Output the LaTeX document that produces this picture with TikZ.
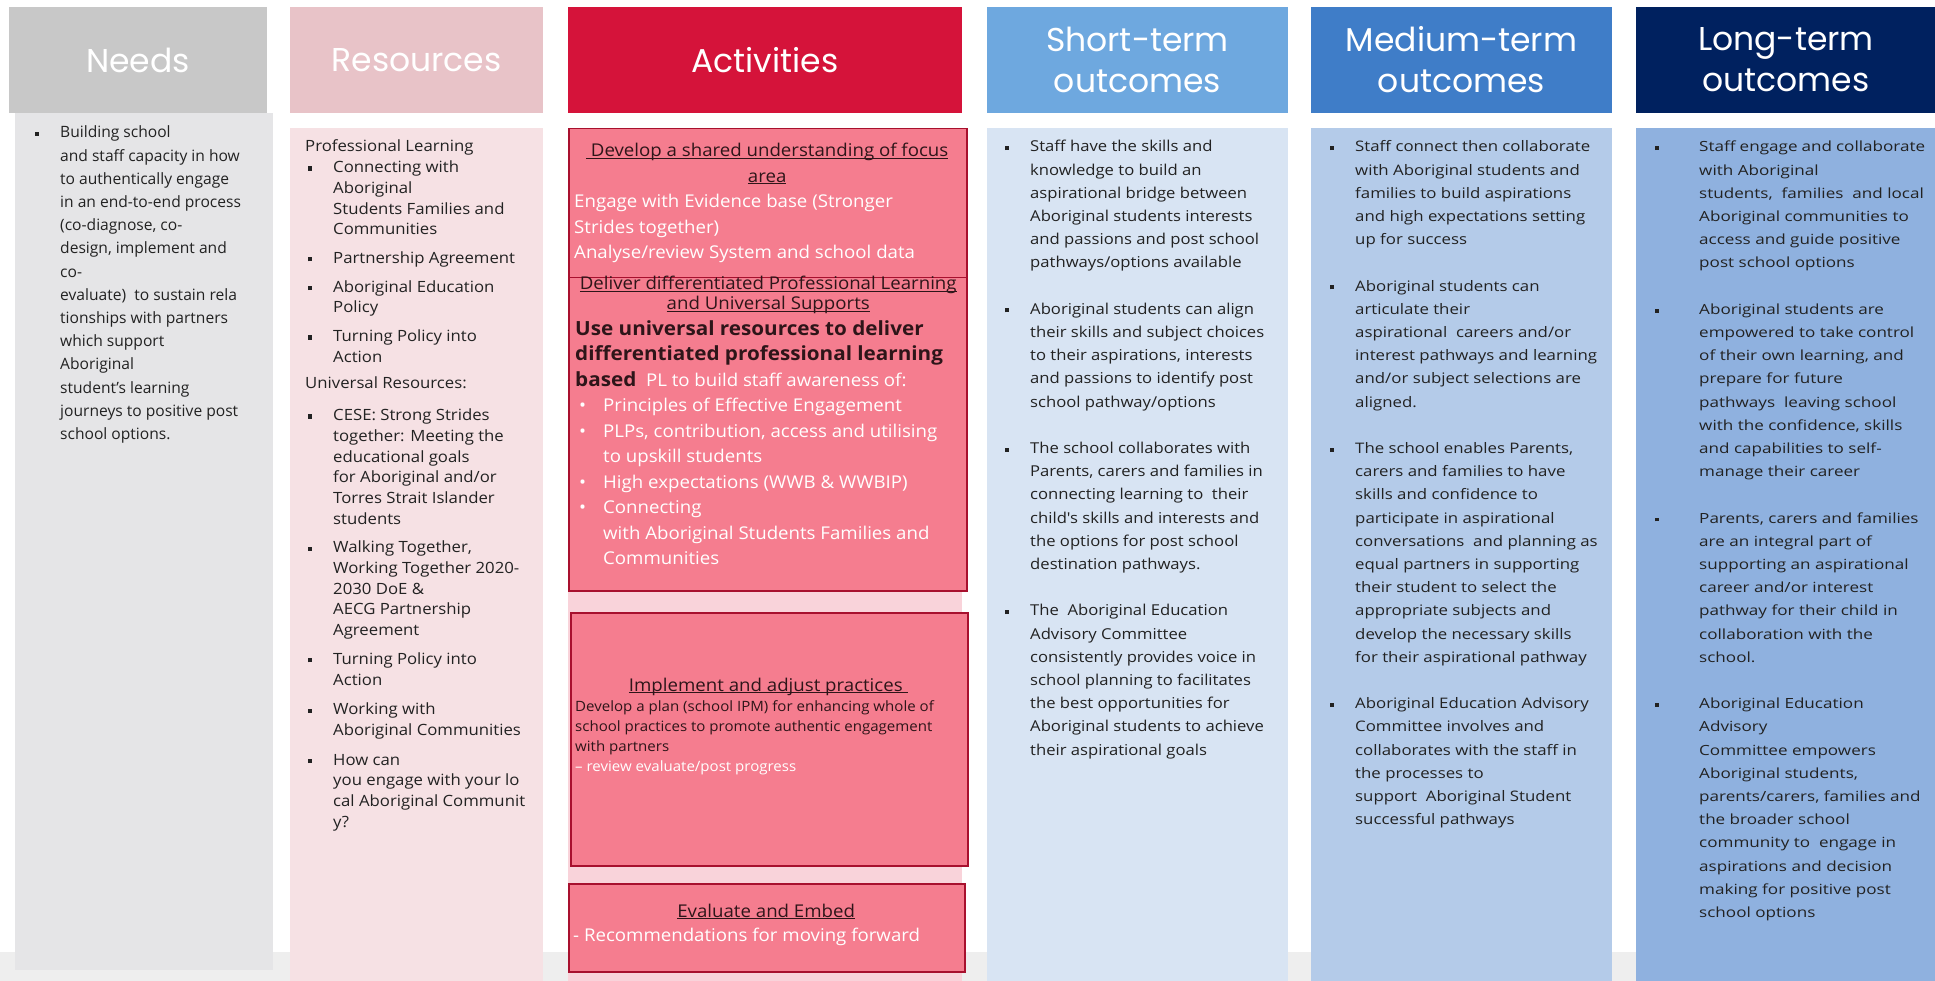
\documentclass[tikz,border=0pt]{standalone}
\usepackage{fontspec}
\setmainfont{Open Sans}
\newfontfamily\headfont{Poppins}
\newfontfamily\resfont[FakeStretch=1.08]{Open Sans}
\newfontfamily\actfont[FakeStretch=1.06]{Open Sans}
\newfontfamily\shortfont[FakeStretch=1.11]{Open Sans}
\newfontfamily\midfont[FakeStretch=1.16]{Open Sans}
\newfontfamily\longfont[FakeStretch=1.22]{Open Sans}
\usetikzlibrary{positioning}

\definecolor{needsH}{HTML}{C8C8C8}
\definecolor{needsB}{HTML}{E5E5E7}
\definecolor{resH}{HTML}{E8C3C8}
\definecolor{resB}{HTML}{F6E1E4}
\definecolor{actH}{HTML}{D5133A}
\definecolor{actB}{HTML}{F9D3DA}
\definecolor{actFill}{HTML}{F57D8F}
\definecolor{actLine}{HTML}{A8102E}
\definecolor{shortH}{HTML}{6EA8DF}
\definecolor{shortB}{HTML}{D8E4F3}
\definecolor{medH}{HTML}{3F7DC8}
\definecolor{medB}{HTML}{B4CBE9}
\definecolor{longH}{HTML}{00215F}
\definecolor{longB}{HTML}{8FB1DF}
\definecolor{band}{HTML}{EEEEEE}
\definecolor{ink}{HTML}{222222}
\definecolor{headink}{HTML}{2E1519}

\newlength\bulshift
\newcommand{\sqbul}{\rule[0.13em]{0.27em}{0.27em}}
\newcommand{\itm}[2][25pt]{\par\noindent\hangindent=#1\hangafter=1\makebox[#1][l]{\hspace{\bulshift}\sqbul}#2\par}
\newcommand{\wbul}[2][28pt]{\par\noindent\hangindent=#1\hangafter=1\makebox[#1][l]{\hspace{4pt}•}#2\par}
\newcommand{\undl}[1]{\leavevmode{\setbox0\hbox{#1}\rlap{\rule[-2pt]{\wd0}{1.1pt}}\box0}}
\newcommand{\itemgap}{\vspace{23.2pt}}

\begin{document}
\begin{tikzpicture}[x=1pt,y=-1pt,
    head/.style={minimum height=106pt,inner sep=0pt,outer sep=0pt,text=white,align=center,
      font=\headfont\fontsize{33}{41}\selectfont},
    body/.style={inner sep=0pt,outer sep=0pt},
    actbox/.style={draw=actLine,line width=1.5pt,fill=actFill,inner sep=0pt,anchor=north west},
    txt/.style={anchor=base west,inner sep=0pt,text=ink}]
    \useasboundingbox (0,0) rectangle (1935,981);
    \fill[white] (0,0) rectangle (1935,981);
    \fill[band] (0,952) rectangle (1935,981);

    \node[head,fill=needsH,minimum width=258pt,anchor=north west] (needs) at (9,7) {Needs};
    \node[head,fill=resH,minimum width=253pt,right=23pt of needs] (res) {Resources};
    \node[head,fill=actH,minimum width=394pt,right=25pt of res] (act) {Activities};
    \node[head,fill=shortH,minimum width=301pt,right=25pt of act] (short) {Short-term\\outcomes};
    \node[head,fill=medH,minimum width=301pt,right=23pt of short] (med) {Medium-term\\outcomes};
    \node[head,fill=longH,minimum width=300pt,right=24pt of med] (long) {Long-term\\outcomes};

    \node[body,fill=needsB,minimum width=258pt,minimum height=857pt,below=0pt of needs,xshift=6pt] (needsbody) {};
    \node[body,fill=resB,minimum width=253pt,minimum height=853pt,below=15pt of res] (resbody) {};
    \node[body,fill=actB,minimum width=394pt,minimum height=853pt,below=15pt of act] (actbody) {};
    \node[body,fill=shortB,minimum width=301pt,minimum height=853pt,below=15pt of short] (shortbody) {};
    \node[body,fill=medB,minimum width=301pt,minimum height=853pt,below=15pt of med] (medbody) {};
    \node[body,fill=longB,minimum width=300pt,minimum height=853pt,below=15pt of long] (longbody) {};

    \node[actbox,minimum width=398pt,minimum height=149pt] (focus) at (568,128) {};
    \node[actbox,minimum width=398pt,minimum height=313pt] (deliver) at (568,277) {};
    \node[actbox,minimum width=397pt,minimum height=253pt] (implement) at (570,612) {};
    \node[actbox,minimum width=396pt,minimum height=88pt] (embed) at (568,883) {};

    \node[txt] (needstext) at (35,138) {\begin{minipage}[t]{235pt}\fontsize{15.6}{23.2}\selectfont
      \itm{Building school\\and staff capacity in how\\to authentically engage\\in an end-to-end process\\(co-diagnose, co-\\design, implement and\\co-\\evaluate)\ \ to sustain rela\\tionships with partners\\which support\\Aboriginal\\student's learning\\journeys to positive post\\school options.}
    \end{minipage}};

    \node[txt] (restext) at (305,152) {\begin{minipage}[t]{235pt}\resfont\fontsize{15.5}{20.7}\selectfont
      \setlength\bulshift{3pt}
      Professional Learning\par
      \itm[28pt]{Connecting with\\Aboriginal\\Students Families and\\Communities}\vspace{8pt}
      \itm[28pt]{Partnership Agreement}\vspace{8pt}
      \itm[28pt]{Aboriginal Education\\Policy}\vspace{8pt}
      \itm[28pt]{Turning Policy into\\Action}\vspace{6pt}
      Universal Resources:\par\vspace{11pt}
      \itm[28pt]{CESE: Strong Strides\\together: Meeting the\\educational goals\\for Aboriginal and/or\\Torres Strait Islander\\students}\vspace{8pt}
      \itm[28pt]{Walking Together,\\Working Together 2020-\\2030 DoE \&\\AECG Partnership\\Agreement}\vspace{8pt}
      \itm[28pt]{Turning Policy into\\Action}\vspace{9pt}
      \itm[28pt]{Working with\\Aboriginal Communities}\vspace{9pt}
      \itm[28pt]{How can\\you engage with your lo\\cal Aboriginal Communit\\y?}
    \end{minipage}};

    \node[txt] (focustext) at (574,157) {\begin{minipage}[t]{386pt}\actfont\fontsize{17.6}{25.5}\selectfont
      {\centering\leavevmode\color{headink}\undl{\ Develop a shared understanding of focus}\\\undl{area}\par}
      \color{white}Engage with Evidence base (Stronger\\Strides together)\\Analyse/review System and school data
    \end{minipage}};

    \node[txt] (delivertext) at (575,290) {\begin{minipage}[t]{386pt}\actfont
      {\centering\fontsize{17.6}{20}\selectfont\leavevmode\color{headink}\undl{Deliver differentiated Professional Learning}\\\undl{and Universal Supports}\par}
      \fontsize{17.6}{25.5}\selectfont
      {\bfseries\fontsize{19.5}{25.5}\selectfont\color{headink}Use universal resources to deliver\\differentiated professional learning\\based}\textcolor{white}{\ \ PL to build staff awareness of:}\par
      \color{white}
      \wbul{Principles of Effective Engagement}
      \wbul{PLPs, contribution, access and utilising\\to upskill students}
      \wbul{High expectations (WWB \& WWBIP)}
      \wbul{Connecting\\with Aboriginal Students Families and\\Communities}
    \end{minipage}};

    \node[txt] (implementtext) at (575,691) {\begin{minipage}[t]{386pt}\actfont
      {\centering\fontsize{17.6}{25.5}\selectfont\leavevmode\color{headink}\undl{Implement and adjust practices\ }\par}
      \fontsize{14.2}{20}\selectfont
      {\color{headink}Develop a plan (school IPM) for enhancing whole of\\school practices to promote authentic engagement\\with partners\par}
      {\color{white}– review evaluate/post progress\par}
    \end{minipage}};

    \node[txt] (embedtext) at (573,917) {\begin{minipage}[t]{386pt}\actfont\fontsize{17.6}{24}\selectfont
      {\centering\leavevmode\color{headink}\undl{Evaluate and Embed}\par}
      \color{white}- Recommendations for moving forward
    \end{minipage}};

    \node[txt] (shorttext) at (1005,152) {\begin{minipage}[t]{285pt}\shortfont\fontsize{15}{23.2}\selectfont
      \itm{Staff have the skills and\\knowledge to build an\\aspirational bridge between\\Aboriginal students interests\\and passions and post school\\pathways/options available}\itemgap
      \itm{Aboriginal students can align\\their skills and subject choices\\to their aspirations, interests\\and passions to identify post\\school pathway/options}\itemgap
      \itm{The school collaborates with\\Parents, carers and families in\\connecting learning to\ \ their\\child's skills and interests and\\the options for post school\\destination pathways.}\itemgap
      \itm{The\ \ Aboriginal Education\\Advisory Committee\\consistently provides voice in\\school planning to facilitates\\the best opportunities for\\Aboriginal students to achieve\\their aspirational goals}
    \end{minipage}};

    \node[txt] (medtext) at (1330,152) {\begin{minipage}[t]{285pt}\midfont\fontsize{14.5}{23.2}\selectfont
      \itm{Staff connect then collaborate\\with Aboriginal students and\\families to build aspirations\\and high expectations setting\\up for success}\itemgap
      \itm{Aboriginal students can\\articulate their\\aspirational\ \ careers and/or\\interest pathways and learning\\and/or subject selections are\\aligned.}\itemgap
      \itm{The school enables Parents,\\carers and families to have\\skills and confidence to\\participate in aspirational\\conversations\ \ and planning as\\equal partners in supporting\\their student to select the\\appropriate subjects and\\develop the necessary skills\\for their aspirational pathway}\itemgap
      \itm{Aboriginal Education Advisory\\Committee involves and\\collaborates with the staff in\\the processes to\\support\ \ Aboriginal Student\\successful pathways}
    \end{minipage}};

    \node[txt] (longtext) at (1655,152) {\begin{minipage}[t]{270pt}\longfont\fontsize{14}{23.2}\selectfont
      \itm[44pt]{Staff engage and collaborate\\with Aboriginal\\students,\ \ families\ \ and local\\Aboriginal communities to\\access and guide positive\\post school options}\itemgap
      \itm[44pt]{Aboriginal students are\\empowered to take control\\of their own learning, and\\prepare for future\\pathways\ \ leaving school\\with the confidence, skills\\and capabilities to self-\\manage their career}\itemgap
      \itm[44pt]{Parents, carers and families\\are an integral part of\\supporting an aspirational\\career and/or interest\\pathway for their child in\\collaboration with the\\school.}\itemgap
      \itm[44pt]{Aboriginal Education\\Advisory\\Committee empowers\\Aboriginal students,\\parents/carers, families and\\the broader school\\community to\ \ engage in\\aspirations and decision\\making for positive post\\school options}
    \end{minipage}};
\end{tikzpicture}
\end{document}
